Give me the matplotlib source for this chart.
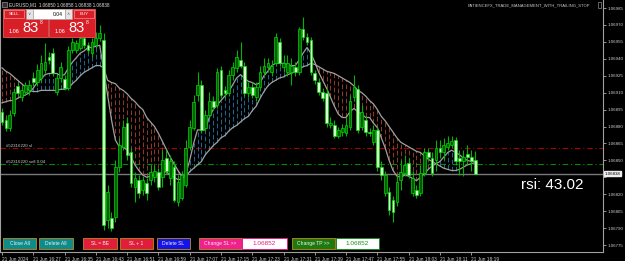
import numpy as np
import matplotlib.pyplot as plt
from matplotlib.patches import Rectangle
from matplotlib.transforms import blended_transform_factory

plt.rcParams['font.family'] = ['Liberation Sans', 'DejaVu Sans']

# EURUSD M1 candles, 16:19 .. 18:20
opens = [1.06893, 1.06886, 1.06879, 1.06892, 1.06916, 1.06906, 1.06911, 1.06912, 1.06923, 1.06919,
         1.06923, 1.06930, 1.06942, 1.06945, 1.06911, 1.06923, 1.06922, 1.06914, 1.06948, 1.06948,
         1.06950, 1.06958, 1.06952, 1.06945, 1.06952, 1.06958, 1.06957, 1.06797, 1.06799, 1.06800,
         1.06844, 1.06862, 1.06883, 1.06857, 1.06826, 1.06833, 1.06824, 1.06830, 1.06833, 1.06835,
         1.06840, 1.06835, 1.06852, 1.06834, 1.06844, 1.06813, 1.06817, 1.06828, 1.06862, 1.06879,
         1.06908, 1.06917, 1.06879, 1.06890, 1.06903, 1.06899, 1.06930, 1.06912, 1.06910, 1.06926,
         1.06932, 1.06939, 1.06934, 1.06910, 1.06915, 1.06906, 1.06915, 1.06928, 1.06933, 1.06928,
         1.06936, 1.06955, 1.06933, 1.06928, 1.06928, 1.06933, 1.06928, 1.06966, 1.06959, 1.06957,
         1.06927, 1.06919, 1.06911, 1.06910, 1.06881, 1.06881, 1.06872, 1.06875, 1.06874, 1.06880,
         1.06906, 1.06913, 1.06880, 1.06886, 1.06875, 1.06866, 1.06877, 1.06844, 1.06821, 1.06822,
         1.06815, 1.06813, 1.06833, 1.06839, 1.06848, 1.06821, 1.06824, 1.06821, 1.06839, 1.06857,
         1.06852, 1.06850, 1.06861, 1.06857, 1.06862, 1.06864, 1.06868, 1.06852, 1.06849, 1.06856,
         1.06853, 1.06850]
highs = [1.06896, 1.06890, 1.06895, 1.06914, 1.06919, 1.06916, 1.06919, 1.06921, 1.06928, 1.06935,
         1.06943, 1.06954, 1.06946, 1.06950, 1.06926, 1.06937, 1.06926, 1.06951, 1.06958, 1.06957,
         1.06966, 1.06962, 1.06955, 1.06958, 1.06964, 1.06970, 1.06963, 1.06828, 1.06804, 1.06850,
         1.06870, 1.06886, 1.06888, 1.06861, 1.06840, 1.06837, 1.06836, 1.06834, 1.06846, 1.06846,
         1.06843, 1.06859, 1.06859, 1.06855, 1.06849, 1.06837, 1.06841, 1.06868, 1.06886, 1.06908,
         1.06928, 1.06921, 1.06895, 1.06911, 1.06907, 1.06932, 1.06934, 1.06916, 1.06930, 1.06937,
         1.06948, 1.06955, 1.06937, 1.06919, 1.06919, 1.06919, 1.06934, 1.06941, 1.06941, 1.06939,
         1.06963, 1.06958, 1.06943, 1.06943, 1.06941, 1.06937, 1.06968, 1.06977, 1.06963, 1.06959,
         1.06930, 1.06923, 1.06914, 1.06914, 1.06888, 1.06886, 1.06880, 1.06882, 1.06888, 1.06908,
         1.06926, 1.06917, 1.06899, 1.06889, 1.06879, 1.06881, 1.06880, 1.06849, 1.06841, 1.06826,
         1.06818, 1.06837, 1.06850, 1.06855, 1.06852, 1.06841, 1.06828, 1.06846, 1.06861, 1.06861,
         1.06857, 1.06868, 1.06868, 1.06870, 1.06872, 1.06872, 1.06871, 1.06859, 1.06859, 1.06864,
         1.06859, 1.06858]
lows = [1.06881, 1.06876, 1.06876, 1.06889, 1.06907, 1.06903, 1.06908, 1.06908, 1.06916, 1.06916,
        1.06919, 1.06927, 1.06935, 1.06925, 1.06908, 1.06919, 1.06912, 1.06912, 1.06945, 1.06945,
        1.06948, 1.06950, 1.06945, 1.06942, 1.06950, 1.06956, 1.06788, 1.06790, 1.06787, 1.06795,
        1.06840, 1.06859, 1.06850, 1.06826, 1.06813, 1.06817, 1.06819, 1.06815, 1.06828, 1.06831,
        1.06824, 1.06826, 1.06838, 1.06828, 1.06813, 1.06810, 1.06815, 1.06826, 1.06859, 1.06877,
        1.06903, 1.06874, 1.06876, 1.06888, 1.06895, 1.06896, 1.06905, 1.06906, 1.06907, 1.06921,
        1.06928, 1.06932, 1.06907, 1.06906, 1.06905, 1.06903, 1.06912, 1.06925, 1.06928, 1.06925,
        1.06934, 1.06934, 1.06928, 1.06925, 1.06917, 1.06925, 1.06926, 1.06957, 1.06952, 1.06926,
        1.06918, 1.06908, 1.06903, 1.06880, 1.06879, 1.06870, 1.06870, 1.06872, 1.06872, 1.06877,
        1.06903, 1.06874, 1.06877, 1.06872, 1.06872, 1.06864, 1.06841, 1.06833, 1.06818, 1.06802,
        1.06795, 1.06810, 1.06824, 1.06836, 1.06834, 1.06818, 1.06817, 1.06818, 1.06836, 1.06850,
        1.06836, 1.06841, 1.06852, 1.06850, 1.06859, 1.06861, 1.06846, 1.06837, 1.06836, 1.06846,
        1.06841, 1.06838]
closes = [1.06884, 1.06879, 1.06890, 1.06911, 1.06910, 1.06912, 1.06917, 1.06917, 1.06919, 1.06930,
          1.06936, 1.06937, 1.06939, 1.06927, 1.06923, 1.06933, 1.06914, 1.06948, 1.06955, 1.06954,
          1.06958, 1.06952, 1.06948, 1.06955, 1.06958, 1.06963, 1.06793, 1.06822, 1.06790, 1.06844,
          1.06864, 1.06880, 1.06855, 1.06830, 1.06834, 1.06821, 1.06833, 1.06821, 1.06840, 1.06841,
          1.06826, 1.06850, 1.06841, 1.06849, 1.06815, 1.06831, 1.06837, 1.06861, 1.06880, 1.06902,
          1.06917, 1.06877, 1.06890, 1.06903, 1.06897, 1.06928, 1.06908, 1.06910, 1.06926, 1.06933,
          1.06942, 1.06934, 1.06910, 1.06915, 1.06908, 1.06915, 1.06928, 1.06934, 1.06936, 1.06934,
          1.06959, 1.06936, 1.06936, 1.06936, 1.06934, 1.06928, 1.06966, 1.06959, 1.06955, 1.06928,
          1.06921, 1.06911, 1.06905, 1.06883, 1.06883, 1.06872, 1.06877, 1.06879, 1.06881, 1.06903,
          1.06915, 1.06877, 1.06893, 1.06875, 1.06874, 1.06877, 1.06844, 1.06837, 1.06837, 1.06806,
          1.06804, 1.06831, 1.06840, 1.06846, 1.06837, 1.06834, 1.06819, 1.06839, 1.06857, 1.06853,
          1.06839, 1.06861, 1.06857, 1.06864, 1.06865, 1.06867, 1.06849, 1.06849, 1.06853, 1.06853,
          1.06849, 1.06838]

# two moving averages drawn by the EA
fast_ma = [1.06901, 1.06902, 1.06903, 1.06903, 1.06905, 1.06907, 1.06908, 1.06910, 1.06914, 1.06919,
           1.06922, 1.06926, 1.06927, 1.06927, 1.06927, 1.06925, 1.06926, 1.06932, 1.06937, 1.06941,
           1.06945, 1.06947, 1.06950, 1.06950, 1.06951, 1.06952, 1.06930, 1.06908, 1.06886, 1.06868,
           1.06862, 1.06862, 1.06859, 1.06853, 1.06846, 1.06841, 1.06837, 1.06835, 1.06836, 1.06837,
           1.06837, 1.06839, 1.06840, 1.06837, 1.06835, 1.06833, 1.06833, 1.06838, 1.06850, 1.06865,
           1.06877, 1.06877, 1.06877, 1.06888, 1.06895, 1.06899, 1.06903, 1.06907, 1.06911, 1.06917,
           1.06923, 1.06926, 1.06923, 1.06920, 1.06919, 1.06917, 1.06919, 1.06925, 1.06929, 1.06934,
           1.06936, 1.06936, 1.06936, 1.06935, 1.06934, 1.06934, 1.06939, 1.06945, 1.06950, 1.06945,
           1.06937, 1.06928, 1.06921, 1.06914, 1.06906, 1.06898, 1.06891, 1.06888, 1.06888, 1.06893,
           1.06896, 1.06893, 1.06891, 1.06888, 1.06888, 1.06883, 1.06879, 1.06870, 1.06861, 1.06850,
           1.06841, 1.06836, 1.06835, 1.06837, 1.06836, 1.06834, 1.06832, 1.06835, 1.06838, 1.06842,
           1.06845, 1.06847, 1.06849, 1.06853, 1.06857, 1.06859, 1.06857, 1.06855, 1.06852, 1.06850,
           1.06849, 1.06849]
slow_ma = [1.06932, 1.06929, 1.06927, 1.06924, 1.06921, 1.06918, 1.06915, 1.06912, 1.06911, 1.06911,
           1.06912, 1.06912, 1.06912, 1.06912, 1.06912, 1.06913, 1.06913, 1.06914, 1.06918, 1.06921,
           1.06925, 1.06928, 1.06930, 1.06932, 1.06934, 1.06934, 1.06932, 1.06921, 1.06919, 1.06918,
           1.06914, 1.06912, 1.06909, 1.06905, 1.06902, 1.06898, 1.06895, 1.06888, 1.06884, 1.06880,
           1.06874, 1.06867, 1.06860, 1.06853, 1.06847, 1.06841, 1.06836, 1.06836, 1.06840, 1.06843,
           1.06846, 1.06849, 1.06855, 1.06859, 1.06863, 1.06866, 1.06870, 1.06872, 1.06876, 1.06879,
           1.06881, 1.06884, 1.06887, 1.06889, 1.06894, 1.06898, 1.06905, 1.06911, 1.06916, 1.06919,
           1.06921, 1.06923, 1.06924, 1.06926, 1.06927, 1.06929, 1.06931, 1.06933, 1.06934, 1.06936,
           1.06935, 1.06933, 1.06931, 1.06929, 1.06928, 1.06927, 1.06925, 1.06923, 1.06921, 1.06919,
           1.06916, 1.06912, 1.06910, 1.06907, 1.06903, 1.06900, 1.06895, 1.06889, 1.06885, 1.06880,
           1.06875, 1.06870, 1.06866, 1.06864, 1.06862, 1.06860, 1.06858, 1.06857, 1.06854, 1.06851,
           1.06849, 1.06847, 1.06845, 1.06843, 1.06842, 1.06841, 1.06841, 1.06842, 1.06844, 1.06846,
           1.06847, 1.06848]

time_ticks = [0, 8, 16, 24, 32, 40, 48, 56, 64, 72, 80, 88, 96, 104, 112, 120]
time_labels = ['21 Jun 2024', '21 Jun 16:27', '21 Jun 16:35', '21 Jun 16:43', '21 Jun 16:51',
               '21 Jun 16:59', '21 Jun 17:07', '21 Jun 17:15', '21 Jun 17:23', '21 Jun 17:31',
               '21 Jun 17:39', '21 Jun 17:47', '21 Jun 17:55', '21 Jun 18:03', '21 Jun 18:11',
               '21 Jun 18:19']
price_ticks = [1.06775, 1.06790, 1.06805, 1.06820, 1.06835, 1.06850, 1.06865, 1.06880,
               1.06895, 1.06910, 1.06925, 1.06940, 1.06955, 1.06970, 1.06985]
price_labels = ['1.06775', '1.06790', '1.06805', '1.06820', '', '1.06850', '1.06865', '1.06880',
                '1.06895', '1.06910', '1.06925', '1.06940', '1.06955', '1.06970', '1.06985']

sl_price = 1.06861
entry_price = 1.06847
ticket = '#52316220'
lot_size = '0.04'
rsi_value = 43.02
line_value = '1.06852'

W, H = 625, 261
fig = plt.figure(figsize=(W / 100, H / 100), dpi=100, facecolor='black')
ax = fig.add_axes([0, 9 / H, 603 / W, 252 / H])
ax.set_facecolor('black')
ax.set_xlim(-0.51, 153.7)
ax.set_ylim(1.067688, 1.069921)

x = np.arange(len(closes))
o, hi, lo, c = map(np.array, (opens, highs, lows, closes))
f, s = np.array(fast_ma), np.array(slow_ma)

# dashed fill between the averages
up = f >= s
dash = [(0, (5.5, 3))]
ax.vlines(x[up], s[up], f[up], colors='#2478b0', linewidth=0.6, linestyles=dash, zorder=1)
ax.vlines(x[~up], f[~up], s[~up], colors='#a8442e', linewidth=0.6, linestyles=dash, zorder=1)
ax.plot(x, f, color='#a0a0a0', lw=0.9, zorder=2)
ax.plot(x, s, color='#a0a0a0', lw=0.9, zorder=2)

# order lines
last_price = closes[-1]
ax.axhline(last_price, color='#7a7a7a', lw=1.0, zorder=0.5)
ax.axhline(sl_price, color='#a80000', lw=0.8, ls=(0, (5, 2.5, 1, 2.5)), zorder=0.5)
ax.axhline(entry_price, color='#008c00', lw=0.8, ls=(0, (5, 2.5, 1, 2.5)), zorder=0.5)
ax.text(1, sl_price, f'{ticket} sl', fontsize=3.2, color='#c8c8c8', va='bottom')
ax.text(1, entry_price, f'{ticket} sell {lot_size}', fontsize=3.2, color='#c8c8c8', va='bottom')

# candles
ax.vlines(x, lo, hi, colors='#00b400', lw=0.8, zorder=3)
bull = c >= o
body = np.maximum(np.abs(c - o), 0.000012)
ax.bar(x[bull], body[bull], bottom=o[bull], width=0.7, color='#005c00',
       edgecolor='#00d800', lw=0.5, zorder=4)
ax.bar(x[~bull], body[~bull], bottom=c[~bull], width=0.7, color='#d8ffd0',
       edgecolor='#00e000', lw=0.5, zorder=4)

# axes styling
for side in ('left', 'right', 'bottom'):
    ax.spines[side].set_color('#a0a0a0')
    ax.spines[side].set_linewidth(0.8)
ax.spines['top'].set_visible(False)
ax.yaxis.tick_right()
ax.set_yticks(price_ticks, price_labels)
ax.tick_params(axis='y', colors='#d0d0d0', labelsize=3.2, length=2, width=0.5, pad=1.5)
ax.set_xticks(time_ticks, time_labels)
for lab in ax.get_xticklabels():
    lab.set_ha('left')
ax.tick_params(axis='x', colors='#d0d0d0', labelsize=3.4, length=2.5, width=0.5, pad=1)

tr = blended_transform_factory(ax.transAxes, ax.transData)
ax.text(1.003, last_price, f'{last_price:.5f}', transform=tr, fontsize=3.2, color='black',
        va='center', ha='left', bbox=dict(facecolor='#f0f0f0', edgecolor='#f0f0f0', pad=0.4))


def box(x0, y0, x1, y1, fc, ec=None, lw=0.6, z=10):
    fig.add_artist(Rectangle((x0 / W, 1 - y1 / H), (x1 - x0) / W, (y1 - y0) / H,
                             transform=fig.transFigure, facecolor=fc,
                             edgecolor=ec or fc, linewidth=lw, zorder=z))


def label(x0, y0, txt, size, color='white', ha='left', va='center', **kw):
    fig.text(x0 / W, 1 - y0 / H, txt, fontsize=size, color=color, ha=ha, va=va, zorder=11, **kw)


# header
box(2, 2, 7, 7, '#303030', '#b0b0b0', lw=0.4)
label(9, 5, f'EURUSD,M1  {opens[-1]:.5f} {highs[-1]:.5f} {lows[-1]:.5f} {closes[-1]:.5f}',
      3.3, color='#e0e0e0')
label(590, 5, 'PATIENCEFX_TRADE_MANAGEMENT_WITH_TRAILING_STOP', 3.0, color='#c8c8c8', ha='right')
box(598, 2, 601, 8, 'none', '#b0b0b0', lw=0.4)

# one-click trading panel
red = '#d81f27'
box(3, 9, 48, 37, red, '#e85a5a')
box(49, 9, 95, 37, red, '#e85a5a')
box(4, 10, 24, 18, red, '#f09090', lw=0.5)
label(14, 14, 'SELL', 3.2, ha='center')
box(74, 10, 94, 18, red, '#f09090', lw=0.5)
label(84, 14, 'BUY', 3.2, ha='center')
box(26, 9, 33, 19, '#e4e4e4', '#a0a0a0', lw=0.4)
box(33, 9, 65, 19, 'white', '#a0a0a0', lw=0.4)
box(65, 9, 72, 19, '#e4e4e4', '#a0a0a0', lw=0.4)
label(29.5, 14, '∨', 3.2, color='#606060', ha='center')
label(68.5, 14, '∧', 3.2, color='#606060', ha='center')
label(63, 14, lot_size, 3.6, color='black', ha='right')
bid = f'{last_price:.5f}'
for x0 in (9, 55):
    label(x0, 31.5, bid[:4], 4.0)
    label(x0 + 13, 28, bid[4:6], 10.5)
    label(x0 + 31, 23, bid[6], 3.6)

# bottom buttons
gold = '#c08a1c'
buttons = [(3, 36, 'Close All', '#0e8c8c'), (39, 73, 'Delete All', '#0e8c8c'),
           (83, 117, 'SL = BE', '#e01e3c'), (120, 153, 'SL + 1', '#e01e3c'),
           (157, 190, 'Delete SL', '#1414e6'), (199, 242, 'Change SL >>', '#f0208c'),
           (292, 335, 'Change TP >>', '#1e7a10')]
for x0, x1, txt, col in buttons:
    box(x0, 238, x1, 249, col, gold, lw=0.6)
    label((x0 + x1) / 2, 243.5, txt, 3.6, color='#f0f0f0', ha='center')
for x0, x1, col in ((242, 287, '#e0207a'), (336, 379, '#208a20')):
    box(x0, 238, x1, 249, 'white', col, lw=0.7)
    label((x0 + x1) / 2, 243.5, line_value, 4.6, color=col, ha='center')

label(521, 185, f'rsi: {rsi_value:.2f}', 11, color='white')

fig.savefig('out.png', dpi=100, facecolor='black')
